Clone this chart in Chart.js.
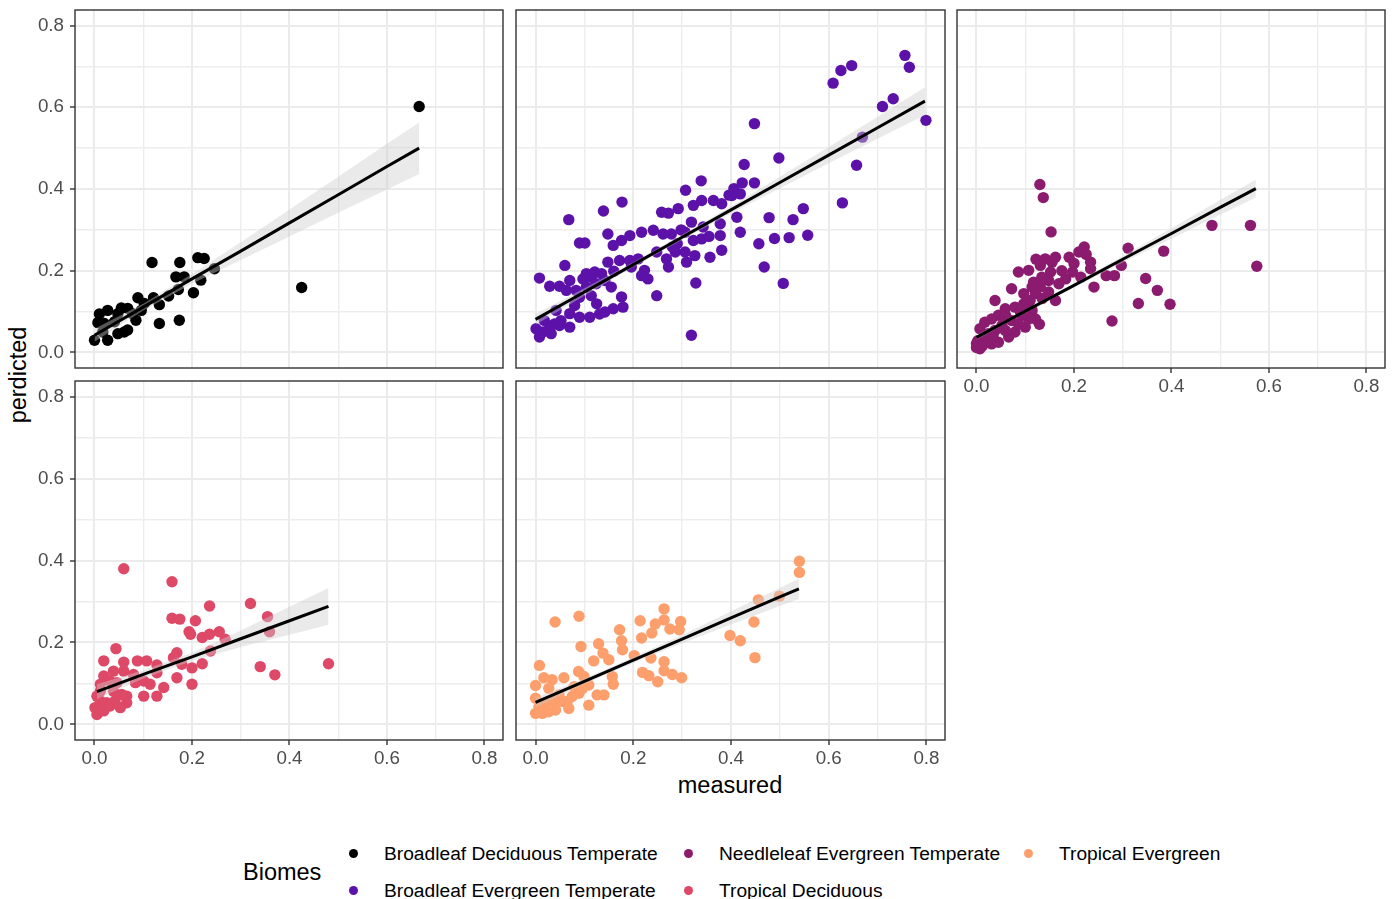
<!DOCTYPE html>
<html>
<head>
<meta charset="utf-8">
<script src="https://cdn.jsdelivr.net/npm/chart.js@4.4.1/dist/chart.umd.min.js"></script>
<style>
  body { margin: 0; width: 1394px; height: 899px; background: #fff; overflow: hidden; position: relative;
         font-family: "Liberation Sans", Arial, sans-serif; }
  canvas { position: absolute; }
  .txt { position: absolute; white-space: nowrap; line-height: 1; color: #000; }
  .dot { position: absolute; width: 9px; height: 9px; border-radius: 50%; }
</style>
</head>
<body>
<div class="txt" id="ytitle" style="font-size:23.5px; left:18.5px; top:375px; transform: translate(-50%,-50%) rotate(-90deg);">perdicted</div>
<div class="txt" id="xtitle" style="font-size:23.5px; left:730px; top:774px; transform: translateX(-50%);">measured</div>
<div class="txt" style="font-size:23.5px; left:243px; top:861px;">Biomes</div>
<script>
// Biomes and colours
const biomes = [
  'Broadleaf Deciduous Temperate',
  'Broadleaf Evergreen Temperate',
  'Needleleaf Evergreen Temperate',
  'Tropical Deciduous',
  'Tropical Evergreen'
]
const biomeColors = ['#000000', '#5c12a8', '#8b1b6f', '#de4968', '#fd9f6c']

// Axis ticks (same for x and y, all panels)
const gridValues = [0, 0.1, 0.2, 0.3, 0.4, 0.5, 0.6, 0.7, 0.8]
const majorTicks = [0, 0.2, 0.4, 0.6, 0.8]
const tickLabels = ['0.0', '0.2', '0.4', '0.6', '0.8']

// measured / predicted pairs
const broadleafDeciduous = [
  [0.666,0.602],[0.425,0.159],[0.118,0.220],[0.175,0.220],[0.212,0.232],[0.225,0.230],[0.246,0.205],
  [0.167,0.185],[0.184,0.185],[0.218,0.177],[0.172,0.154],[0.203,0.146],[0.152,0.138],[0.133,0.117],
  [0.121,0.134],[0.089,0.134],[0.102,0.120],[0.133,0.071],[0.174,0.079],[0.085,0.079],[0.096,0.103],
  [0.055,0.109],[0.068,0.108],[0.048,0.095],[0.027,0.103],[0.010,0.094],[0.007,0.073],[0.020,0.071],
  [0.000,0.030],[0.027,0.030],[0.048,0.046],[0.061,0.050],[0.068,0.055],[0.017,0.050],[0.041,0.075],
  [0.078,0.095]
]
const broadleafEvergreen = [
  [0.756,0.727],[0.765,0.698],[0.647,0.702],[0.625,0.690],[0.609,0.659],[0.710,0.602],[0.732,0.621],
  [0.799,0.568],[0.448,0.560],[0.669,0.527],[0.498,0.476],[0.657,0.458],[0.427,0.460],[0.628,0.366],
  [0.548,0.352],[0.527,0.325],[0.557,0.287],[0.519,0.281],[0.489,0.279],[0.478,0.330],[0.457,0.266],
  [0.468,0.209],[0.507,0.169],[0.319,0.042],[0.328,0.170],[0.339,0.420],[0.307,0.397],[0.423,0.415],
  [0.448,0.415],[0.406,0.401],[0.396,0.385],[0.177,0.368],[0.139,0.346],[0.068,0.325],[0.090,0.268],
  [0.101,0.268],[0.148,0.290],[0.159,0.262],[0.176,0.274],[0.193,0.286],[0.217,0.294],[0.241,0.299],
  [0.261,0.290],[0.278,0.290],[0.258,0.343],[0.272,0.341],[0.292,0.352],[0.323,0.360],[0.340,0.372],
  [0.364,0.372],[0.381,0.364],[0.402,0.384],[0.419,0.388],[0.319,0.319],[0.306,0.294],[0.323,0.274],
  [0.340,0.278],[0.343,0.307],[0.378,0.315],[0.378,0.286],[0.381,0.250],[0.357,0.233],[0.412,0.331],
  [0.419,0.294],[0.306,0.246],[0.309,0.221],[0.326,0.237],[0.268,0.229],[0.272,0.209],[0.248,0.246],
  [0.223,0.201],[0.230,0.180],[0.217,0.188],[0.248,0.139],[0.148,0.221],[0.172,0.225],[0.193,0.225],
  [0.210,0.229],[0.060,0.213],[0.008,0.182],[0.029,0.162],[0.049,0.162],[0.070,0.176],[0.104,0.193],
  [0.121,0.197],[0.135,0.193],[0.155,0.160],[0.176,0.136],[0.179,0.111],[0.159,0.107],[0.142,0.099],
  [0.125,0.119],[0.114,0.139],[0.090,0.135],[0.080,0.115],[0.070,0.095],[0.052,0.078],[0.039,0.070],
  [0.029,0.062],[0.015,0.050],[0.001,0.058],[0.008,0.038],[0.032,0.046],[0.049,0.066],[0.090,0.086],
  [0.111,0.086],[0.131,0.094],[0.063,0.152],[0.083,0.152],[0.104,0.160],[0.124,0.168],[0.142,0.176],
  [0.097,0.180],[0.114,0.184],[0.070,0.062],[0.042,0.103],[0.018,0.078],[0.355,0.284],[0.290,0.266],
  [0.280,0.258],[0.298,0.300],[0.286,0.246],[0.196,0.209],[0.160,0.199]
]
const needleleafEvergreen = [
  [0.130,0.411],[0.137,0.379],[0.153,0.295],[0.483,0.311],[0.562,0.311],[0.575,0.211],[0.384,0.248],
  [0.311,0.255],[0.347,0.181],[0.371,0.152],[0.397,0.118],[0.332,0.120],[0.278,0.077],[0.221,0.258],
  [0.210,0.246],[0.190,0.233],[0.162,0.233],[0.141,0.229],[0.122,0.228],[0.234,0.221],[0.234,0.205],
  [0.197,0.197],[0.214,0.184],[0.241,0.160],[0.266,0.188],[0.283,0.188],[0.297,0.213],[0.152,0.197],
  [0.148,0.176],[0.134,0.184],[0.169,0.168],[0.183,0.180],[0.107,0.201],[0.086,0.197],[0.072,0.156],
  [0.114,0.160],[0.097,0.144],[0.121,0.144],[0.162,0.127],[0.129,0.069],[0.038,0.127],[0.110,0.127],
  [0.097,0.119],[0.079,0.111],[0.059,0.107],[0.045,0.091],[0.031,0.082],[0.017,0.074],[0.007,0.058],
  [0.003,0.029],[0.007,0.009],[0.114,0.103],[0.093,0.091],[0.072,0.078],[0.052,0.066],[0.038,0.054],
  [0.024,0.046],[0.017,0.029],[0.031,0.021],[0.045,0.025],[0.066,0.038],[0.079,0.050],[0.100,0.062],
  [0.121,0.082],[0.059,0.054],[0.086,0.070],[0.107,0.082],[0.131,0.213],[0.155,0.221],[0.117,0.172],
  [0.131,0.160],[0.148,0.148],[0.000,0.022],[0.000,0.012],[0.012,0.016],[0.020,0.036],[0.034,0.040],
  [0.060,0.090],[0.090,0.100],[0.101,0.112],[0.135,0.132],[0.175,0.200],[0.200,0.218],[0.225,0.240]
]
const tropicalDeciduous = [
  [0.060,0.380],[0.159,0.348],[0.320,0.295],[0.236,0.289],[0.355,0.263],[0.359,0.226],[0.480,0.148],
  [0.340,0.141],[0.370,0.121],[0.159,0.259],[0.175,0.257],[0.207,0.253],[0.194,0.226],[0.197,0.220],
  [0.221,0.212],[0.236,0.220],[0.256,0.226],[0.268,0.208],[0.238,0.179],[0.169,0.175],[0.221,0.148],
  [0.200,0.138],[0.200,0.098],[0.169,0.114],[0.162,0.163],[0.179,0.147],[0.044,0.185],[0.019,0.155],
  [0.060,0.152],[0.088,0.155],[0.107,0.155],[0.128,0.145],[0.128,0.126],[0.128,0.069],[0.142,0.090],
  [0.101,0.069],[0.084,0.102],[0.101,0.106],[0.114,0.098],[0.080,0.122],[0.039,0.130],[0.060,0.130],
  [0.019,0.118],[0.032,0.106],[0.012,0.098],[0.005,0.069],[0.012,0.057],[0.025,0.053],[0.042,0.057],
  [0.066,0.053],[0.066,0.069],[0.053,0.041],[0.005,0.024],[0.001,0.041],[0.019,0.033],[0.032,0.045],
  [0.012,0.081],[0.039,0.081],[0.046,0.102],[0.056,0.073]
]
const tropicalEvergreen = [
  [0.540,0.398],[0.540,0.371],[0.499,0.313],[0.456,0.304],[0.447,0.250],[0.449,0.163],[0.398,0.217],
  [0.419,0.204],[0.040,0.250],[0.089,0.264],[0.263,0.282],[0.214,0.253],[0.245,0.245],[0.263,0.255],
  [0.297,0.251],[0.275,0.233],[0.294,0.231],[0.172,0.231],[0.238,0.223],[0.217,0.211],[0.176,0.204],
  [0.178,0.182],[0.093,0.190],[0.129,0.197],[0.138,0.174],[0.150,0.158],[0.119,0.155],[0.202,0.168],
  [0.236,0.162],[0.263,0.153],[0.263,0.131],[0.280,0.122],[0.299,0.114],[0.219,0.127],[0.232,0.119],
  [0.250,0.104],[0.157,0.117],[0.159,0.098],[0.008,0.144],[0.017,0.114],[0.000,0.095],[0.034,0.109],
  [0.058,0.114],[0.088,0.129],[0.099,0.117],[0.109,0.096],[0.089,0.076],[0.075,0.068],[0.065,0.056],
  [0.068,0.039],[0.109,0.047],[0.126,0.072],[0.140,0.072],[0.048,0.072],[0.038,0.056],[0.027,0.088],
  [0.000,0.064],[0.007,0.043],[0.000,0.027],[0.014,0.027],[0.027,0.031],[0.041,0.035],[0.021,0.051],
  [0.055,0.056],[0.079,0.092],[0.096,0.088]
]

// lm fits with confidence band (x, fit, lower, upper)
const fitX = [
  [0, 0.1, 0.2, 0.3, 0.4, 0.5, 0.6, 0.666],
  [0, 0.1, 0.2, 0.3, 0.4, 0.5, 0.6, 0.7, 0.797],
  [0, 0.1, 0.2, 0.3, 0.4, 0.5, 0.573],
  [0.005, 0.1, 0.2, 0.3, 0.4, 0.48],
  [0, 0.1, 0.2, 0.3, 0.4, 0.5, 0.539]
]
const fitY = [
  [0.042, 0.111, 0.180, 0.248, 0.317, 0.386, 0.455, 0.500],
  [0.081, 0.148, 0.215, 0.282, 0.349, 0.416, 0.483, 0.550, 0.615],
  [0.037, 0.101, 0.164, 0.228, 0.291, 0.355, 0.401],
  [0.080, 0.122, 0.165, 0.209, 0.253, 0.288],
  [0.054, 0.105, 0.157, 0.208, 0.260, 0.311, 0.331]
]
const fitLo = [
  [0.026, 0.103, 0.168, 0.226, 0.284, 0.342, 0.399, 0.437],
  [0.068, 0.139, 0.209, 0.276, 0.340, 0.402, 0.463, 0.523, 0.581],
  [0.031, 0.097, 0.159, 0.220, 0.278, 0.337, 0.379],
  [0.062, 0.112, 0.155, 0.189, 0.219, 0.243],
  [0.042, 0.098, 0.150, 0.198, 0.244, 0.289, 0.306]
]
const fitHi = [
  [0.058, 0.119, 0.192, 0.270, 0.350, 0.430, 0.511, 0.563],
  [0.094, 0.157, 0.221, 0.288, 0.358, 0.430, 0.503, 0.577, 0.649],
  [0.043, 0.105, 0.169, 0.236, 0.304, 0.373, 0.423],
  [0.098, 0.132, 0.175, 0.229, 0.287, 0.333],
  [0.066, 0.112, 0.164, 0.218, 0.276, 0.333, 0.356]
]

const biomeData = [broadleafDeciduous, broadleafEvergreen, needleleafEvergreen, tropicalDeciduous, tropicalEvergreen]

// facet layout: plot area of each panel on the page
const panels = [
  { left: 75,  top: 10,  w: 428, h: 358, yTicks: true,  xTicks: false },
  { left: 516, top: 10,  w: 429, h: 358, yTicks: false, xTicks: false },
  { left: 957, top: 10,  w: 428, h: 358, yTicks: false, xTicks: true },
  { left: 75,  top: 381, w: 428, h: 359, yTicks: true,  xTicks: true },
  { left: 516, top: 381, w: 429, h: 359, yTicks: false, xTicks: true }
]

const PAD = 3
const Y_AXIS_W = 75
const X_AXIS_H = 40
const FONT = '"Liberation Sans", Arial, sans-serif'

const isMajor = v => majorTicks.some(m => Math.abs(m - v) < 1e-6)
const tickText = v => {
  const i = majorTicks.findIndex(m => Math.abs(m - v) < 1e-6)
  return i >= 0 ? tickLabels[i] : ''
}

// panel border drawn on top, like ggplot's theme_bw
const framePlugin = {
  id: 'frame',
  afterDraw: (chart) => {
    const { ctx, chartArea: a } = chart
    ctx.save()
    ctx.strokeStyle = '#333333'
    ctx.lineWidth = 1.4
    ctx.strokeRect(a.left, a.top, a.right - a.left, a.bottom - a.top)
    ctx.restore()
  }
}

const axis = (min, max, showTicks, size, horizontal) => ({
  type: 'linear',
  min: min,
  max: max,
  border: { display: false },
  grid: {
    color: c => (c.tick && isMajor(c.tick.value)) ? '#ebebeb' : '#ededed',
    lineWidth: c => (c.tick && isMajor(c.tick.value)) ? 2 : 1.4,
    drawTicks: showTicks,
    tickLength: 5,
    tickWidth: 1.4,
    tickColor: c => (c.tick && isMajor(c.tick.value)) ? '#333333' : 'rgba(0,0,0,0)'
  },
  ticks: {
    display: showTicks,
    autoSkip: false,
    maxRotation: 0,
    color: '#4d4d4d',
    font: { family: FONT, size: 18.8 },
    padding: horizontal ? 3 : 6,
    callback: v => tickText(v)
  },
  afterBuildTicks: s => { s.ticks = gridValues.map(v => ({ value: v })) },
  afterFit: s => {
    if (horizontal) s.height = size
    else s.width = size
    s.paddingTop = 0; s.paddingBottom = 0; s.paddingLeft = 0; s.paddingRight = 0
  }
})

const BAND = 'rgba(205,205,205,0.42)'

const makePanel = (p, i) => {
  const yw = p.yTicks ? Y_AXIS_W : 0
  const xh = p.xTicks ? X_AXIS_H : 0
  const cv = document.createElement('canvas')
  cv.width = p.w + yw + 2 * PAD
  cv.height = p.h + xh + 2 * PAD
  cv.style.left = (p.left - yw - PAD) + 'px'
  cv.style.top = (p.top - PAD) + 'px'
  document.body.appendChild(cv)

  const pts = biomeData[i].map(d => ({ x: d[0], y: d[1] }))
  const line = fitX[i].map((x, j) => ({ x: x, y: fitY[i][j] }))
  const lo = fitX[i].map((x, j) => ({ x: x, y: fitLo[i][j] }))
  const hi = fitX[i].map((x, j) => ({ x: x, y: fitHi[i][j] }))

  new Chart(cv, {
    type: 'scatter',
    data: {
      datasets: [
        { type: 'line', data: line, showLine: true, borderColor: '#000000', borderWidth: 3, pointRadius: 0, fill: false, order: 1 },
        { type: 'line', data: hi, showLine: true, borderColor: 'rgba(0,0,0,0)', borderWidth: 1, pointRadius: 0, fill: '+1', backgroundColor: BAND, order: 2 },
        { type: 'line', data: lo, showLine: true, borderColor: 'rgba(0,0,0,0)', borderWidth: 1, pointRadius: 0, fill: false, order: 2 },
        { data: pts, backgroundColor: biomeColors[i], borderWidth: 0, pointRadius: 5.7, order: 3 }
      ]
    },
    options: {
      responsive: false,
      animation: false,
      events: [],
      layout: { padding: PAD, autoPadding: false },
      plugins: { legend: { display: false }, tooltip: { enabled: false } },
      scales: {
        x: axis(-0.04, 0.838, p.xTicks, xh, true),
        y: axis(-0.038, 0.838, p.yTicks, yw, false)
      }
    },
    plugins: [framePlugin]
  })
}

panels.forEach(makePanel)

// legend: two rows, filled by column
const legendPos = [[353, 853], [353, 890], [688, 853], [688, 890], [1028, 853]]
biomes.forEach((b, i) => {
  const [cx, cy] = legendPos[i]
  const dot = document.createElement('div')
  dot.className = 'dot'
  dot.style.background = biomeColors[i]
  dot.style.left = (cx - 4.5) + 'px'
  dot.style.top = (cy - 4.5) + 'px'
  document.body.appendChild(dot)
  const t = document.createElement('div')
  t.className = 'txt'
  t.style.fontSize = '19.2px'
  t.style.left = (cx + 31) + 'px'
  t.style.top = (cy - 9) + 'px'
  t.textContent = b
  document.body.appendChild(t)
})
</script>
</body>
</html>
